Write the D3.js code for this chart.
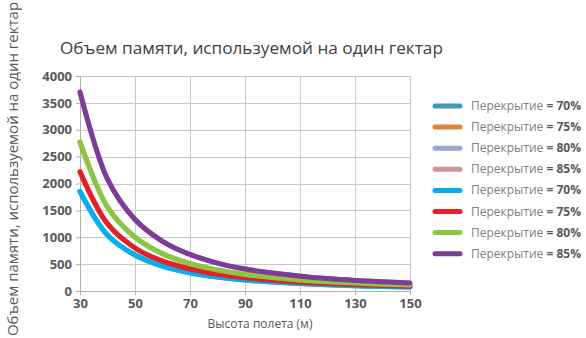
<!DOCTYPE html>
<html>
<head>
<meta charset="utf-8">
<script src="https://cdn.jsdelivr.net/npm/d3@7"></script>
<style>
  body { margin: 0; background: #fff; }
  text { font-family: "Open Sans", "Noto Sans", sans-serif; }
</style>
</head>
<body>
<div id="chart"></div>
<script>
// heights (m)
var heights = [30, 40, 50, 60, 70, 80, 90, 100, 110, 120, 130, 140, 150];

// memory per hectare
var overlap70 = [1850, 1040, 670, 465, 340, 260, 205, 167, 138, 116, 99, 85, 74];
var overlap75 = [2220, 1250, 800, 555, 410, 312, 247, 200, 165, 139, 118, 102, 89];
var overlap80 = [2770, 1560, 1000, 695, 510, 390, 308, 250, 206, 173, 148, 127, 111];
var overlap85 = [3700, 2080, 1330, 925, 680, 520, 410, 333, 275, 231, 197, 170, 148];

var seriesNames = ['Перекрытие = 70%', 'Перекрытие = 75%', 'Перекрытие = 80%', 'Перекрытие = 85%',
                   'Перекрытие = 70%', 'Перекрытие = 75%', 'Перекрытие = 80%', 'Перекрытие = 85%'];
var seriesValues = [overlap70, overlap75, overlap80, overlap85,
                    overlap70, overlap75, overlap80, overlap85];
var colors = ['#4198af', '#db843d', '#93a9cf', '#d19392',
              '#00b0f0', '#e2212b', '#8dc63f', '#7d3c98'];

var xTicks = [30, 50, 70, 90, 110, 130, 150];
var yTicks = [0, 500, 1000, 1500, 2000, 2500, 3000, 3500, 4000];

var W = 586, H = 338;
var margin = {top: 76, right: 176, bottom: 47, left: 80},
    width = W - margin.left - margin.right,
    height = H - margin.top - margin.bottom;

var svg = d3.select('#chart').append('svg')
    .attr('width', W)
    .attr('height', H);

var x = d3.scaleLinear().domain([30, 150]).range([0, width]);
var y = d3.scaleLinear().domain([0, 4000]).range([height, 0]);

var g = svg.append('g')
    .attr('transform', 'translate(' + margin.left + ',' + margin.top + ')');

// grid
g.append('g').selectAll('line.h')
  .data(yTicks).enter().append('line')
    .attr('x1', 0).attr('x2', width)
    .attr('y1', function(d) { return Math.round(y(d)) + 0.5; })
    .attr('y2', function(d) { return Math.round(y(d)) + 0.5; })
    .attr('stroke', '#c8c8c8');
g.append('g').selectAll('line.v')
  .data(xTicks).enter().append('line')
    .attr('y1', 0).attr('y2', height)
    .attr('x1', function(d) { return Math.round(x(d)) + 0.5; })
    .attr('x2', function(d) { return Math.round(x(d)) + 0.5; })
    .attr('stroke', '#c8c8c8');

// axes
var xAxis = d3.axisBottom(x).tickValues(xTicks).tickSize(4).tickPadding(4).tickFormat(d3.format('d'));
var yAxis = d3.axisLeft(y).tickValues(yTicks).tickSize(4).tickPadding(4).tickFormat(d3.format('d'));

var gx = g.append('g')
    .attr('transform', 'translate(0,' + height + ')')
    .call(xAxis);
var gy = g.append('g').call(yAxis);

[gx, gy].forEach(function(a) {
  a.select('.domain').attr('stroke', '#b0b0b0');
  a.selectAll('.tick line').attr('stroke', '#b0b0b0');
  a.selectAll('.tick text')
    .attr('fill', '#595959')
    .style('font-size', '13px')
    .style('font-weight', 'bold')
    .style('font-family', '"Open Sans", sans-serif');
});

// lines
var line = d3.line()
    .x(function(d, i) { return x(heights[i]); })
    .y(function(d) { return y(d); })
    .curve(d3.curveCatmullRom.alpha(0.5));

g.selectAll('path.series')
  .data(seriesValues).enter().append('path')
    .attr('class', 'series')
    .attr('d', function(d) { return line(d); })
    .attr('fill', 'none')
    .attr('stroke', function(d, i) { return colors[i]; })
    .attr('stroke-width', 5)
    .attr('stroke-linecap', 'round')
    .attr('stroke-linejoin', 'round');

// title
svg.append('text')
    .attr('x', 60).attr('y', 54)
    .attr('fill', '#404040')
    .style('font-size', '17.2px')
    .text('Объем памяти, используемой на один гектар');

// y axis title
svg.append('text')
    .attr('transform', 'translate(18,' + 169 + ') rotate(-90)')
    .attr('text-anchor', 'middle')
    .attr('fill', '#595959')
    .style('font-size', '15px')
    .text('Объем памяти, используемой на один гектар');

// x axis title
svg.append('text')
    .attr('x', 260).attr('y', 328)
    .attr('text-anchor', 'middle')
    .attr('fill', '#595959')
    .style('font-size', '12px')
    .text('Высота полета (м)');

// legend
var legend = svg.append('g').attr('transform', 'translate(433,106)');
var items = legend.selectAll('g').data(seriesNames).enter().append('g')
    .attr('transform', function(d, i) { return 'translate(0,' + (i * 21.1) + ')'; });
items.append('line')
    .attr('x1', 2).attr('x2', 27)
    .attr('stroke', function(d, i) { return colors[i]; })
    .attr('stroke-width', 5)
    .attr('stroke-linecap', 'round');
var lt = items.append('text')
    .attr('x', 38).attr('y', 4)
    .style('font-size', '12px');
lt.append('tspan').attr('fill', '#7f7f7f')
    .text(function(d) { return d.split(' = ')[0] + ' '; });
lt.append('tspan').attr('fill', '#595959').style('font-weight', 'bold')
    .text(function(d) { return '= ' + d.split(' = ')[1]; });
</script>
</body>
</html>
